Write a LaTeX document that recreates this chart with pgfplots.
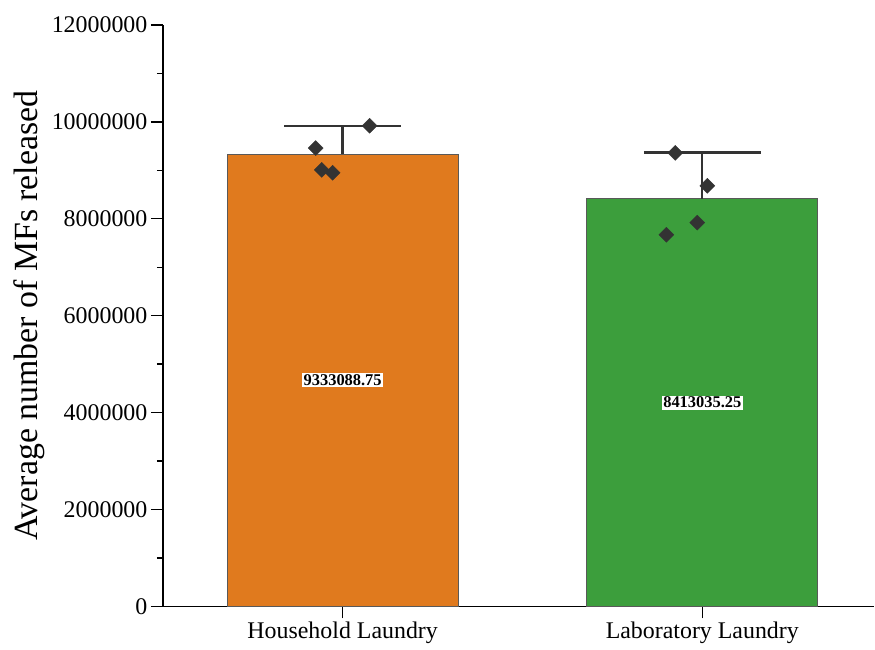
\documentclass[border=0pt]{standalone}
\usepackage{pgfplots}
\pgfplotsset{compat=1.18}
\usepackage{fontspec}
\setmainfont{Liberation Serif}
\definecolor{barorange}{HTML}{E07A1E}
\definecolor{bargreen}{HTML}{3C9E3C}
\definecolor{markgray}{HTML}{333333}
\begin{document}
\begin{tikzpicture}
\begin{axis}[
  scale only axis,
  width=712bp, height=582bp,
  at={(0,0)}, anchor=south west,
  xmin=0.5, xmax=2.478,
  ymin=0, ymax=12000000,
  axis lines=left,
  axis line style={-, line width=1.6bp},
  xtick={1,2},
  xticklabels={Household Laundry, Laboratory Laundry},
  ytick={0,2000000,4000000,6000000,8000000,10000000,12000000},
  minor y tick num=1,
  tick align=outside,
  major tick length=12bp,
  minor tick length=6bp,
  tick style={line width=1.4bp, black},
  scaled y ticks=false,
  /pgf/number format/fixed,
  /pgf/number format/1000 sep={},
  /pgf/number format/assume math mode=true,
  ticklabel style={font=\fontsize{24}{28}\selectfont},
  ylabel={Average number of MFs released},
  ylabel style={font=\fontsize{34}{38}\selectfont},
  clip=false,
]
\addplot[ybar, bar width=231bp, bar shift=0pt, fill=barorange, draw=black!65, line width=1bp]
  coordinates {(1,9333088.75)};
\addplot[ybar, bar width=231bp, bar shift=0pt, fill=bargreen, draw=black!65, line width=1bp]
  coordinates {(2,8413035.25)};
% error bars (upper only): stem and cap
\addplot[line width=2.4bp, markgray, mark=none] coordinates {(1,9333088.75) (1,9910000)};
\addplot[line width=2.4bp, markgray, mark=none] coordinates {(0.8375,9910000) (1.1625,9910000)};
\addplot[line width=2.4bp, markgray, mark=none] coordinates {(2,8413035.25) (2,9370000)};
\addplot[line width=2.4bp, markgray, mark=none] coordinates {(1.8375,9370000) (2.1625,9370000)};
% individual points
\addplot[only marks, mark=square*, mark size=5.3bp, mark options={rotate=45, fill=markgray, draw=markgray}]
  coordinates {(1.075,9920000) (0.925,9460000) (0.942,9010000) (0.972,8950000)
               (1.925,9360000) (2.014,8680000) (1.986,7920000) (1.900,7670000)};
\node[fill=white, inner sep=1.5bp, font=\fontsize{16.5}{18}\selectfont\bfseries] at (axis cs:1,4666544) {9333088.75};
\node[fill=white, inner sep=1.5bp, font=\fontsize{16.5}{18}\selectfont\bfseries] at (axis cs:2,4206518) {8413035.25};
\end{axis}
\path (-163bp,-43bp) rectangle (712bp,607bp);
\end{tikzpicture}
\end{document}
